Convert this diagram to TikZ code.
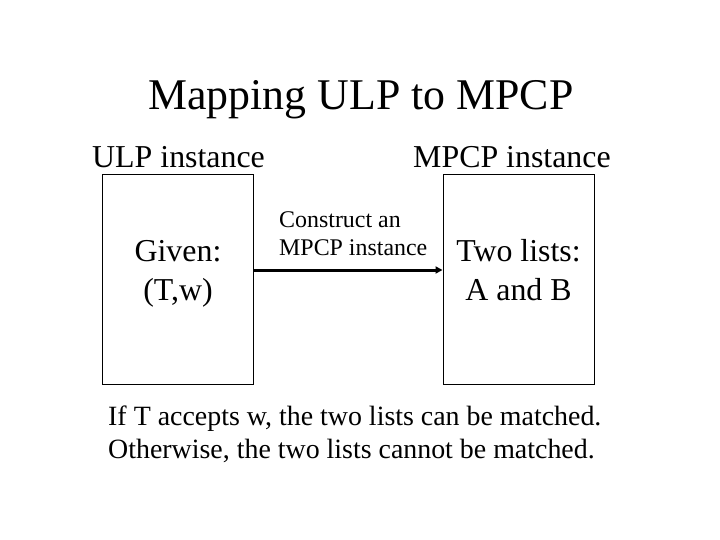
\documentclass[tikz,border=0pt]{standalone}
\usepackage{fontspec}
\setmainfont{Liberation Serif}
\usetikzlibrary{arrows.meta}
\begin{document}
\begin{tikzpicture}[x=1bp,y=-1bp,
  panel/.style={draw=black,line width=1bp,minimum width=151bp,minimum height=210bp,inner sep=0pt},
  txt/.style={inner sep=0pt,font=\fontsize{32}{36}\selectfont},
  small/.style={inner sep=0pt,font=\fontsize{24}{28}\selectfont},
  body/.style={inner sep=0pt,anchor=base west,font=\fontsize{28}{33}\selectfont},
  conn/.style={line width=3bp,-{Triangle[length=7bp,width=7bp]}}]
\useasboundingbox[fill=white] (0,0) rectangle (720,540);
\node[inner sep=0pt,anchor=base,font=\fontsize{44}{50}\selectfont] (title) at (361,110) {Mapping ULP to MPCP};
\node[txt,anchor=base west] (ulplab) at (92,168) {ULP instance};
\node[txt,anchor=base west] (mpcplab) at (413,168) {MPCP instance};
\node[panel] (ulp) at (177.5,279.5) {};
\node[panel] (mpcp) at (518.5,279.5) {};
\node[txt,anchor=base] (given) at (178,262) {Given:};
\node[txt,anchor=base] (tw) at (178,300) {(T,w)};
\node[txt,anchor=base] (two) at (518.5,262) {Two lists:};
\node[txt,anchor=base] (ab) at (518.5,300) {A and B};
\node[small,anchor=base west] (c1) at (279,228) {Construct an};
\node[small,anchor=base west] (c2) at (279,256) {MPCP instance};
\coordinate (ay) at (0,270);
\draw[conn] (ulp.east |- ay) -- (mpcp.west |- ay);
\node[body] (b1) at (108,425) {If T accepts w, the two lists can be matched.};
\node[body] (b2) at (108,458) {Otherwise, the two lists cannot be matched.};
\end{tikzpicture}
\end{document}
